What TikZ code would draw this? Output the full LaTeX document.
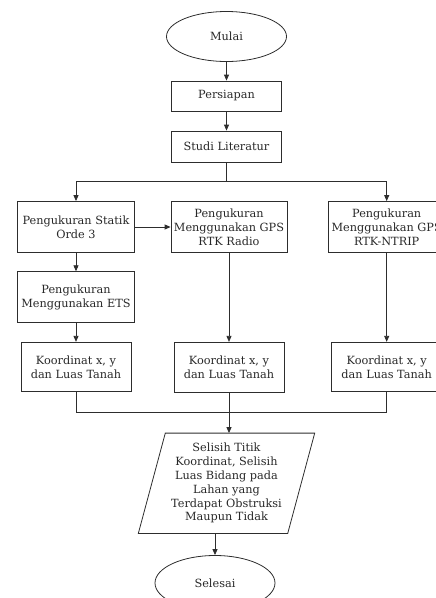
\documentclass[tikz,border=0pt]{standalone}
\usepackage{fontspec}
\setmainfont{DejaVu Serif}
\usetikzlibrary{shapes.geometric,arrows.meta,calc}
\definecolor{ln}{RGB}{45,45,45}
\definecolor{tx}{RGB}{40,40,40}
\begin{document}
\begin{tikzpicture}[x=1pt,y=-1pt,
  every node/.style={text=tx,font=\fontsize{11.3}{13.8}\selectfont,align=center,inner sep=1pt},
  boxnode/.style={draw=ln,line width=0.8pt,rectangle},
  ovalnode/.style={draw=ln,line width=0.8pt,ellipse,minimum width=120,minimum height=50},
  conn/.style={draw=ln,line width=0.8pt},
  arr/.style={conn,-{Triangle[length=6pt,width=5pt]}}]
\useasboundingbox (0,0) rectangle (436,598);
\clip (0,0) rectangle (436,598);
% top
\node[ovalnode] (mulai) at (226.5,36.5) {Mulai};
\node[boxnode,minimum width=110,minimum height=30] (persiapan) at (226.5,96) {Persiapan};
\node[boxnode,minimum width=110,minimum height=31] (studi) at (226.5,146.5) {Studi Literatur};
% row 1
\node[boxnode,minimum width=117,minimum height=51] (statik) at (76,227) {Pengukuran Statik\\Orde 3};
\node[boxnode,minimum width=116,minimum height=51] (radio) at (229,227) {Pengukuran\\Menggunakan GPS\\RTK Radio};
\node[boxnode,minimum width=116,minimum height=51] (ntrip) at (386.7,227) {Pengukuran\\Menggunakan GPS\\RTK-NTRIP};
% row 2
\node[boxnode,minimum width=117,minimum height=51] (ets) at (76,297.2) {Pengukuran\\Menggunakan ETS};
% row 3
\node[boxnode,minimum width=110,minimum height=49.5] (k1) at (76,367) {Koordinat x, y\\dan Luas Tanah};
\node[boxnode,minimum width=110,minimum height=50] (k2) at (229,367.3) {Koordinat x, y\\dan Luas Tanah};
\node[boxnode,minimum width=110,minimum height=49.5] (k3) at (386.7,367) {Koordinat x, y\\dan Luas Tanah};
% parallelogram
\node[minimum width=149,minimum height=100] (para) at (226.5,483.3) {Selisih Titik\\Koordinat, Selisih\\Luas Bidang pada\\Lahan yang\\Terdapat Obstruksi\\Maupun Tidak};
\draw[conn] ($(para.north west)+(13.5,0)$) -- ($(para.north east)+(13.5,0)$)
  -- ($(para.south east)+(-13.5,0)$) -- ($(para.south west)+(-13.5,0)$) -- cycle;
\node[ovalnode,minimum height=55] (selesai) at (215,583) {Selesai};
% connectors
\coordinate (br) at (226.5,181.7);
\coordinate (mg) at (229,412.7);
\draw[arr] (mulai) -- (persiapan);
\draw[arr] (persiapan) -- (studi);
\draw[conn] (studi) -- (br);
\draw[arr] (br) -| (statik);
\draw[arr] (br) -| (ntrip);
\draw[arr] (statik) -- (radio);
\draw[arr] (statik) -- (ets);
\draw[arr] (ets) -- (k1);
\draw[arr] (radio) -- (k2);
\draw[arr] (ntrip) -- (k3);
\draw[conn] (k1) |- (mg);
\draw[conn] (k3) |- (mg);
\draw[arr] (k2.south) -- (k2.south |- para.north);
\draw[arr] (para.south -| selesai.north) -- (selesai.north);
\end{tikzpicture}
\end{document}
